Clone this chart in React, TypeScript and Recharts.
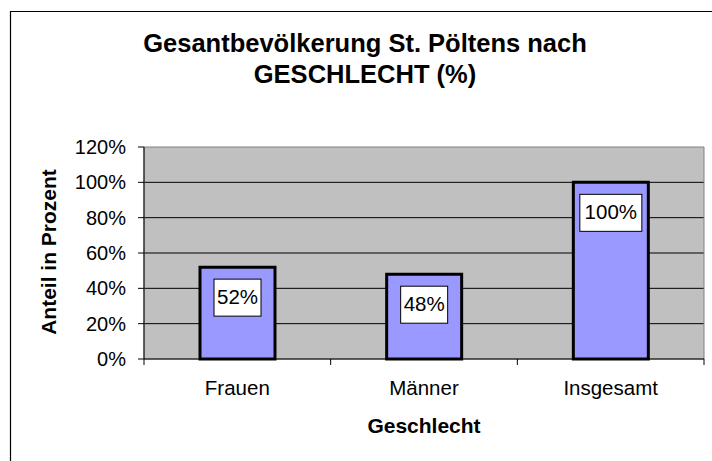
import React from 'react';
import { BarChart, Bar, XAxis, YAxis, CartesianGrid, ReferenceArea, LabelList } from 'recharts';

// Daten: Anteil der Bevölkerung nach Geschlecht (%)
const CATEGORIES = ['Frauen', 'Männer', 'Insgesamt'];
const SHARES = [52, 48, 100];
const Y_TICKS = [0, 20, 40, 60, 80, 100, 120];
const GRID_LINES = [20, 40, 60, 80, 100];

const TITLE_LINES = ['Gesantbevölkerung St. Pöltens nach', 'GESCHLECHT (%)'];
const X_TITLE = 'Geschlecht';
const Y_TITLE = 'Anteil in Prozent';

const FONT = '"Liberation Sans", Arial, sans-serif';
const W = 712;
const H = 461;
const PLOT_LEFT = 144;
const PLOT_RIGHT = 704;
const PLOT_TOP = 147;
const PLOT_BOTTOM = 359;
const BAND = (PLOT_RIGHT - PLOT_LEFT) / CATEGORIES.length;

const data = CATEGORIES.map((name, i) => ({ name, anteil: SHARES[i] }));

const CategoryTick = (props: any) => {
  const { x, y, payload, index } = props;
  const left = x - BAND / 2;
  const right = x + BAND / 2;
  return (
    <g>
      <line x1={left} y1={y} x2={left} y2={y + 6} stroke="#000" />
      {index === CATEGORIES.length - 1 && <line x1={right} y1={y} x2={right} y2={y + 6} stroke="#000" />}
      <text x={x} y={y + 36} textAnchor="middle" fontSize={20.5} fontFamily={FONT} fill="#000">
        {payload.value}
      </text>
    </g>
  );
};

const ValueLabel = (props: any) => {
  const vb = props.viewBox || {};
  const x = props.x ?? vb.x;
  const y = props.y ?? vb.y;
  const width = props.width ?? vb.width;
  const text = `${props.value}%`;
  const boxW = text.length === 3 ? 47 : 62;
  const boxH = 37;
  const cx = x + width / 2;
  const top = y + 12;
  return (
    <g>
      <rect x={cx - boxW / 2} y={top} width={boxW} height={boxH} fill="#fff" stroke="#000" strokeWidth={1} />
      <text x={cx} y={top + 25} textAnchor="middle" fontSize={20.5} fontFamily={FONT} fill="#000">
        {text}
      </text>
    </g>
  );
};

export default function App() {
  return (
    <div style={{ position: 'absolute', left: 0, top: 0, width: W, height: H, background: '#fff', overflow: 'hidden' }}>
      <BarChart
        width={W}
        height={H}
        data={data}
        margin={{ top: PLOT_TOP, right: W - PLOT_RIGHT, bottom: H - PLOT_BOTTOM - 50, left: PLOT_LEFT - 80 }}
      >
        <CartesianGrid
          vertical={false}
          horizontalValues={GRID_LINES}
          stroke="#000"
          fill="#C0C0C0"
          fillOpacity={1}
        />
        <ReferenceArea y1={0} y2={120} fill="none" stroke="#808080" strokeWidth={1} ifOverflow="visible" />
        <XAxis
          dataKey="name"
          height={50}
          tickLine={false}
          tickSize={0}
          tickMargin={0}
          axisLine={{ stroke: '#000' }}
          tick={<CategoryTick />}
          interval={0}
        />
        <YAxis
          width={80}
          domain={[0, 120]}
          ticks={Y_TICKS}
          interval={0}
          tickFormatter={(v: number) => `${v}%`}
          axisLine={{ stroke: '#000' }}
          tickLine={{ stroke: '#000' }}
          tickSize={6}
          tickMargin={12}
          tick={{ fontSize: 20, fill: '#000', fontFamily: FONT }}
        />
        <Bar dataKey="anteil" fill="#9999FF" stroke="#000" strokeWidth={3} barSize={75} isAnimationActive={false}>
          <LabelList dataKey="anteil" content={<ValueLabel />} />
        </Bar>
      </BarChart>
      <svg width={W} height={H} style={{ position: 'absolute', left: 0, top: 0, pointerEvents: 'none' }}>
        <line x1={10.5} y1={11} x2={10.5} y2={H} stroke="#000" strokeWidth={1.2} />
        <line x1={10} y1={11.5} x2={W} y2={11.5} stroke="#000" strokeWidth={1.2} />
        {TITLE_LINES.map((line, i) => (
          <text key={i} x={365} y={52 + i * 31} textAnchor="middle" fontSize={25.5} fontWeight="bold" fontFamily={FONT} fill="#000">
            {line}
          </text>
        ))}
        <text x={424} y={433} textAnchor="middle" fontSize={21} fontWeight="bold" fontFamily={FONT} fill="#000">
          {X_TITLE}
        </text>
        <text
          x={56}
          y={252}
          transform="rotate(-90 56 252)"
          textAnchor="middle"
          fontSize={21}
          fontWeight="bold"
          fontFamily={FONT}
          fill="#000"
        >
          {Y_TITLE}
        </text>
      </svg>
    </div>
  );
}
